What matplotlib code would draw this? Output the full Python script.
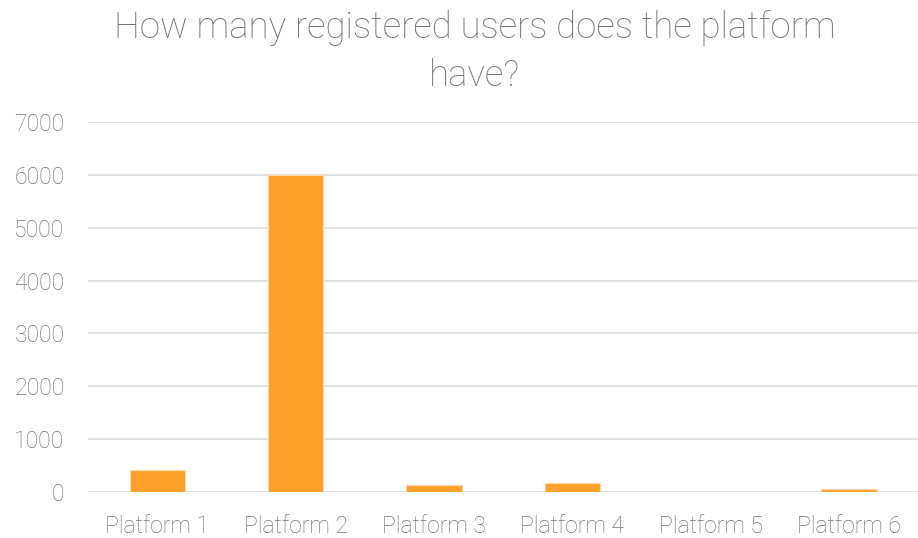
import matplotlib.pyplot as plt

platforms = ["Platform 1", "Platform 2", "Platform 3", "Platform 4", "Platform 5", "Platform 6"]
users = [415, 6000, 120, 170, 0, 55]
yticks = [0, 1000, 2000, 3000, 4000, 5000, 6000, 7000]

plt.rcParams['font.family'] = ['Roboto', 'Liberation Sans', 'DejaVu Sans']
plt.rcParams['font.weight'] = 'light'
grey = '#737373'

fig = plt.figure(figsize=(9.18, 5.38), dpi=100)
ax = fig.add_axes((0.096, 0.086, 0.904, 0.687))

ax.bar(range(len(platforms)), users, width=0.4, color='#FFA02A',
       edgecolor='#FFD9A8', linewidth=0.8, zorder=3)

ax.set_xlim(-0.5, len(platforms) - 0.5)
ax.set_ylim(0, 7000)
ax.set_yticks(yticks)
ax.set_xticks(range(len(platforms)))
ax.set_xticklabels(platforms)
ax.grid(axis='y', color='#e0e0e0', linewidth=1.3, zorder=0)
for s in ax.spines.values():
    s.set_visible(False)
ax.tick_params(length=0, labelsize=16.6, labelcolor=grey)
ax.tick_params(axis='y', pad=17)
ax.tick_params(axis='x', pad=17)

fig.suptitle("How many registered users does the platform\nhave?", x=0.517, y=0.982,
             fontsize=26.4, color=grey, linespacing=1.45, fontweight='light')

fig.savefig("out.png", dpi=100)
